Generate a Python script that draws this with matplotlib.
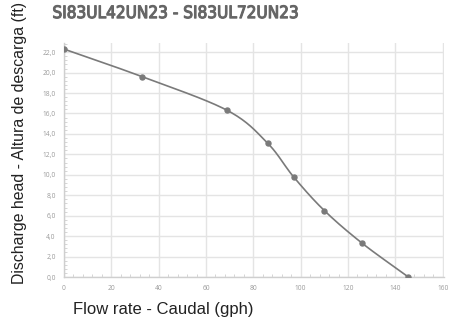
import numpy as np
import matplotlib
matplotlib.use("Agg")
import matplotlib.pyplot as plt
import matplotlib.patheffects as pe
from matplotlib.ticker import MultipleLocator, FuncFormatter

# --- datos de la curva ---
caudal = [0, 33, 69, 86, 97, 110, 126, 145.5]
altura = [22.3, 19.6, 16.3, 13.1, 9.8, 6.5, 3.3, 0.0]

titulo = "SI83UL42UN23 - SI83UL72UN23"
etiqueta_x = "Flow rate - Caudal (gph)"
etiqueta_y = "Discharge head - Altura de descarga (ft)"


# --- curva suavizada tipo Excel (Catmull-Rom) ---
def suavizar(x, y, n=30):
    x = np.asarray(x, float)
    y = np.asarray(y, float)
    px = np.concatenate([[2 * x[0] - x[1]], x, [2 * x[-1] - x[-2]]])
    py = np.concatenate([[2 * y[0] - y[1]], y, [2 * y[-1] - y[-2]]])
    t = np.linspace(0, 1, n)
    xs, ys = [], []
    for i in range(1, len(px) - 2):
        for p, out in ((px, xs), (py, ys)):
            p0, p1, p2, p3 = p[i - 1], p[i], p[i + 1], p[i + 2]
            out.extend(0.5 * (2 * p1 + (-p0 + p2) * t
                              + (2 * p0 - 5 * p1 + 4 * p2 - p3) * t ** 2
                              + (-p0 + 3 * p1 - 3 * p2 + p3) * t ** 3))
    return xs, ys


fig = plt.figure(figsize=(4.52, 3.23), dpi=100)
ax = fig.add_axes([0.1416, 0.1424, 0.8404, 0.7246])

xs, ys = suavizar(caudal, altura)
ax.plot(xs, ys, color="#7a7a7a", lw=1.2, zorder=3)
ax.plot(caudal, altura, "o", color="#7a7a7a", ms=3.6, zorder=4)

ax.set_xlim(0, 160.5)
ax.set_ylim(0, 22.9)
ax.xaxis.set_major_locator(MultipleLocator(20))
ax.xaxis.set_minor_locator(MultipleLocator(4))
ax.yaxis.set_major_locator(MultipleLocator(2))
ax.yaxis.set_minor_locator(MultipleLocator(0.4))
ax.yaxis.set_major_formatter(FuncFormatter(lambda v, p: f"{v:.1f}".replace(".", ",")))

ax.grid(True, which="major", color="#e4e4e4", lw=1)
ax.set_axisbelow(True)
for s in ("top", "right"):
    ax.spines[s].set_visible(False)
for s in ("left", "bottom"):
    ax.spines[s].set_color("#cfcfcf")
    ax.spines[s].set_linewidth(1)
ax.tick_params(which="major", length=0, pad=6, labelsize=4.8, labelcolor="#9a9a9a")
ax.tick_params(which="minor", direction="in", length=2, color="#cfcfcf", width=0.6)
for lab in ax.get_xticklabels() + ax.get_yticklabels():
    lab.set_family("Open Sans")

# titulo un poco mas grueso con un trazo del mismo color
fig.text(0.116, 0.944, titulo, fontsize=12.3, color="#666666",
         family="DejaVu Sans", fontstretch="condensed",
         ha="left", va="baseline",
         path_effects=[pe.withStroke(linewidth=0.8, foreground="#666666")])
fig.text(0.043, 0.559, etiqueta_y, rotation=90, fontsize=11.4, color="#222222",
         family="Liberation Sans", ha="center", va="center")
fig.text(0.161, 0.028, etiqueta_x, fontsize=12, color="#222222",
         family="Liberation Sans", ha="left", va="baseline")

fig.savefig("out.png", dpi=100)
